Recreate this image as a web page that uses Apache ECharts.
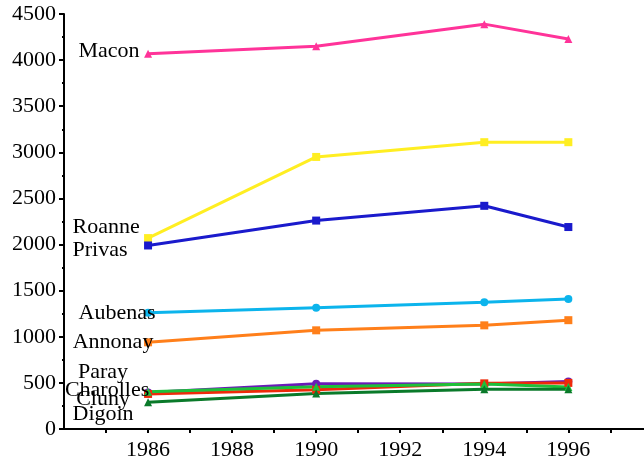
<!DOCTYPE html>
<html>
<head>
<meta charset="utf-8">
<script src="https://cdn.jsdelivr.net/npm/echarts@6/dist/echarts.min.js"></script>
<style>
  html, body { margin: 0; padding: 0; background: #fff; }
  #chart { width: 644px; height: 469px; }
</style>
</head>
<body>
<div id="chart"></div>
<script>
// years on the x axis
var years = [1986, 1990, 1994, 1996];

// town names, in drawing order
var towns = ['Macon', 'Roanne', 'Privas', 'Aubenas', 'Annonay', 'Paray', 'Charolles', 'Cluny', 'Digoin'];

// values
var macon     = [4070, 4150, 4390, 4230];
var roanne    = [2070, 2950, 3110, 3110];
var privas    = [1990, 2260, 2420, 2190];
var aubenas   = [1260, 1316, 1375, 1410];
var annonay   = [940, 1070, 1124, 1180];
var paray     = [395, 490, 488, 515];
var charolles = [380, 425, 495, 500];
var cluny     = [405, 459, 488, 455];
var digoin    = [290, 385, 430, 432];

var values = [macon, roanne, privas, aubenas, annonay, paray, charolles, cluny, digoin];

var colors = ['#ff3399', '#ffee22', '#1a1acc', '#0cb4ec', '#ff7f1a', '#6a1ab8', '#ee2a0a', '#1ec03a', '#0a7a2a'];
var symbols = ['triangle', 'rect', 'rect', 'circle', 'rect', 'circle', 'rect', 'triangle', 'triangle'];
// where each name sits relative to its 1986 point
var labelOffsets = [[-39, -2], [-42, -11], [-48, 5], [-31, 0], [-35, 0], [-45, -20], [-41, -4], [-45, 8], [-45, 12]];

var font = '"Liberation Serif", "Times New Roman", serif';

var series = towns.map(function (name, i) {
    var data = years.map(function (y, j) { return [y, values[i][j]]; });
    data[0] = {
        value: data[0],
        label: {
            show: true,
            position: 'inside',
            offset: labelOffsets[i],
            formatter: name,
            color: '#000',
            fontFamily: font,
            fontSize: 22,
            align: 'center',
            verticalAlign: 'middle'
        }
    };
    return {
        name: name,
        type: 'line',
        data: data,
        symbol: symbols[i],
        symbolSize: 8,
        showAllSymbol: true,
        lineStyle: { color: colors[i], width: 3 },
        itemStyle: { color: colors[i] },
        emphasis: { disabled: true }
    };
});

var chart = echarts.init(document.getElementById('chart'));
chart.setOption({
    animation: false,
    backgroundColor: '#fff',
    grid: { left: 64, right: 0, top: 14, bottom: 40, containLabel: false },
    xAxis: {
        type: 'value',
        min: 1984,
        max: 1997.8,
        interval: 1,
        axisLine: { onZero: false, lineStyle: { color: '#000', width: 2 } },
        axisTick: { length: 4, lineStyle: { color: '#000', width: 2 } },
        splitLine: { show: false },
        axisLabel: {
            color: '#000',
            fontFamily: font,
            fontSize: 22,
            margin: 10,
            showMinLabel: false,
            showMaxLabel: false,
            formatter: function (v) { return v % 2 === 0 ? String(v) : ''; }
        }
    },
    yAxis: {
        type: 'value',
        min: 0,
        max: 4500,
        interval: 500,
        axisLine: { show: true, lineStyle: { color: '#000', width: 2 } },
        axisTick: { show: true, length: 5, lineStyle: { color: '#000', width: 2 } },
        minorTick: { show: true, splitNumber: 2, length: 2, lineStyle: { color: '#000', width: 2 } },
        splitLine: { show: false },
        axisLabel: {
            color: '#000',
            fontFamily: font,
            fontSize: 22,
            margin: 8,
            formatter: function (v) { return String(v); }
        }
    },
    series: series
});
</script>
</body>
</html>
